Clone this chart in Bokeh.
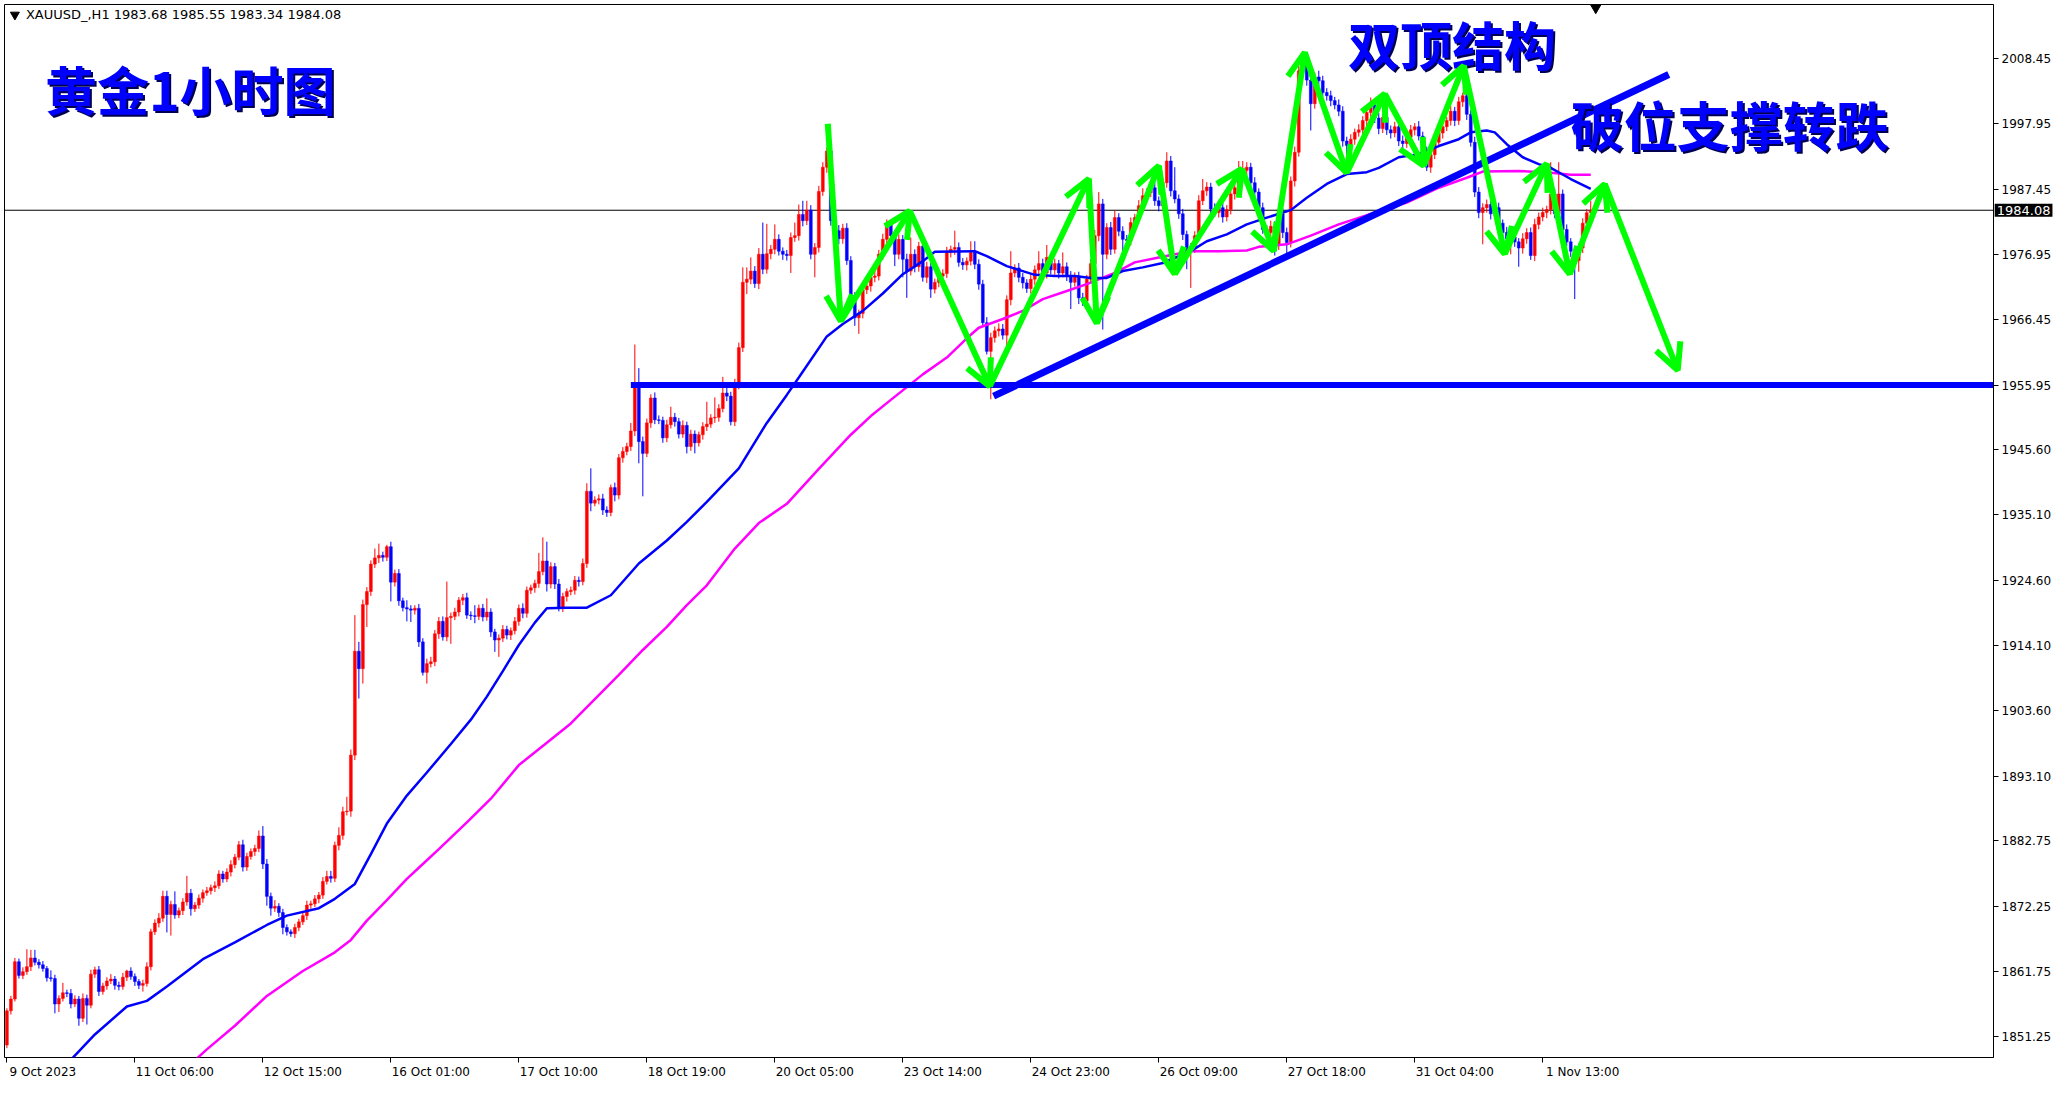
import numpy as np
from bokeh.plotting import figure
from bokeh.models import (Range1d, FixedTicker, Span, Label, Arrow,
                          OpenHead, ColumnDataSource, NumeralTickFormatter)
from bokeh.core.properties import value
from bokeh.embed import file_html
from bokeh.resources import INLINE

# XAUUSD H1, one value per bar (open of each bar = previous close)
first_open = 1849.9
closes = [
    1855.4, 1857.3, 1863.3, 1861.1, 1861.7, 1862.5, 1863.9, 1863.2, 1862.8, 1862.2,
    1860.7, 1860.6, 1856.5, 1857.4, 1858.3, 1858.2, 1856.5, 1857.3, 1854.2, 1857.4,
    1856.3, 1861.3, 1862.0, 1858.5, 1859.4, 1860.2, 1860.5, 1859.5, 1859.3, 1860.8,
    1861.8, 1860.9, 1860.1, 1859.5, 1859.8, 1862.5, 1868.1, 1869.5, 1870.3, 1873.8,
    1870.9, 1872.5, 1870.8, 1871.5, 1872.9, 1874.3, 1871.8, 1872.4, 1873.5, 1874.4,
    1874.7, 1875.2, 1875.5, 1877.4, 1876.6, 1877.7, 1878.9, 1880.1, 1882.1, 1878.5,
    1880.2, 1881.0, 1881.5, 1883.5, 1879.0, 1873.8, 1871.9, 1872.2, 1871.2, 1868.8,
    1868.1, 1867.8, 1868.8, 1869.7, 1870.7, 1872.4, 1872.6, 1873.4, 1874.0, 1876.2,
    1877.0, 1876.7, 1882.0, 1883.6, 1887.4, 1887.5, 1896.5, 1913.2, 1910.4, 1920.7,
    1922.8, 1927.2, 1928.2, 1928.6, 1928.3, 1930.0, 1924.3, 1925.7, 1921.3, 1920.2,
    1920.0, 1919.8, 1920.1, 1914.7, 1909.8, 1911.2, 1911.5, 1916.0, 1918.0, 1915.5,
    1918.6, 1918.8, 1919.5, 1921.4, 1921.8, 1919.0, 1918.9, 1918.8, 1920.1, 1918.7,
    1919.5, 1916.3, 1915.0, 1915.3, 1916.7, 1915.8, 1916.5, 1918.0, 1920.1, 1919.3,
    1923.0, 1923.4, 1924.1, 1926.0, 1927.7, 1924.0, 1926.8, 1924.0, 1920.2, 1922.0,
    1922.8, 1923.0, 1924.6, 1924.4, 1927.3, 1938.9, 1937.0, 1937.5, 1937.7, 1935.9,
    1935.5, 1939.5, 1938.3, 1944.3, 1945.3, 1946.1, 1948.6, 1956.3, 1946.9, 1945.0,
    1949.9, 1953.9, 1950.4, 1950.3, 1947.5, 1949.6, 1950.8, 1950.1, 1948.1, 1949.5,
    1946.1, 1948.1, 1946.7, 1948.0, 1949.3, 1949.7, 1950.7, 1950.8, 1952.2, 1954.7,
    1954.2, 1950.1, 1956.1, 1962.0, 1972.5, 1973.0, 1974.3, 1972.3, 1977.0, 1974.6,
    1977.1, 1977.8, 1979.4, 1977.5, 1977.0, 1976.8, 1979.7, 1980.0, 1983.4, 1982.4,
    1984.1, 1977.0, 1978.1, 1987.1, 1991.0, 1993.6, 1982.4, 1980.8, 1979.5, 1981.2,
    1976.0, 1970.0, 1966.8, 1967.5, 1971.3, 1971.9, 1973.3, 1973.5, 1977.0, 1979.4,
    1981.8, 1980.0, 1977.0, 1979.4, 1976.2, 1974.3, 1977.0, 1975.0, 1978.3, 1973.3,
    1975.0, 1971.4, 1972.5, 1973.5, 1973.9, 1977.3, 1977.8, 1978.1, 1975.7, 1975.3,
    1975.9, 1977.3, 1975.4, 1972.2, 1966.0, 1961.4, 1963.6, 1964.7, 1965.0, 1964.0,
    1969.7, 1974.0, 1974.8, 1973.3, 1972.4, 1971.5, 1973.0, 1974.5, 1975.5, 1974.0,
    1976.5, 1974.5, 1975.5, 1974.0, 1975.0, 1973.5, 1972.5, 1973.5, 1970.0, 1969.5,
    1973.0, 1975.5, 1980.0, 1985.1, 1977.0, 1981.3, 1977.8, 1982.9, 1980.7, 1979.4,
    1979.2, 1982.1, 1982.9, 1984.8, 1986.4, 1986.9, 1987.7, 1985.6, 1984.8, 1988.5,
    1992.0, 1987.2, 1985.9, 1983.5, 1980.2, 1977.5, 1978.0, 1980.0, 1985.6, 1987.2,
    1987.8, 1984.3, 1983.7, 1984.5, 1983.0, 1984.2, 1986.7, 1987.7, 1989.1, 1990.5,
    1991.0, 1988.5, 1987.0, 1984.5, 1981.0, 1980.5, 1981.5, 1978.5, 1983.5, 1980.5,
    1978.9, 1988.8, 1993.4, 2006.5, 2008.0, 2005.0, 2001.2, 2005.5, 2004.9, 2003.0,
    2002.5, 2001.7, 2001.0, 2000.0, 1995.2, 1994.5, 1995.5, 1996.6, 1997.0, 1998.5,
    1999.8, 2001.0, 1998.9, 1997.2, 1999.0, 1997.0, 1996.5, 1997.5, 1995.2, 1994.8,
    1995.8, 1997.0, 1997.5, 1996.0, 1993.5, 1991.0, 1993.0, 1995.0, 1996.5, 1997.5,
    1998.5, 2000.0, 1998.5, 2001.5, 2002.5, 1999.5, 1995.0, 1987.0, 1983.7, 1984.5,
    1985.0, 1983.5, 1984.5, 1982.0, 1980.5, 1979.5, 1979.8, 1979.0, 1978.0, 1979.5,
    1980.5, 1976.8, 1981.8, 1983.0, 1983.7, 1984.2, 1986.7, 1983.5, 1986.7, 1981.0,
    1979.0, 1977.5, 1976.0, 1978.0, 1982.0, 1983.68, 1984.08,
]
# upper / lower shadow length of each bar
wick_up = [
    0.4, 0.5, 0.6, 0.5, 0.7, 2.8, 1.3, 1.3, 0.5, 0.6,
    0.4, 1.2, 0.6, 0.5, 1.6, 0.5, 0.7, 0.6, 0.5, 0.8,
    0.6, 0.7, 0.5, 0.6, 0.5, 0.6, 0.8, 0.5, 0.6, 0.7,
    0.2, 0.6, 0.5, 0.4, 0.6, 0.7, 0.5, 0.6, 0.8, 0.9,
    0.9, 0.6, 2.1, 0.5, 0.6, 2.8, 0.7, 0.5, 0.6, 0.5,
    0.6, 0.5, 0.7, 0.6, 0.5, 0.6, 0.7, 0.5, 0.6, 0.8,
    0.6, 0.5, 0.6, 0.9, 1.6, 0.8, 0.6, 1.0, 0.5, 0.6,
    0.5, 0.4, 0.6, 0.5, 0.6, 0.7, 0.5, 0.6, 0.5, 0.7,
    0.9, 0.9, 0.6, 1.3, 0.8, 2.3, 0.9, 5.8, 1.5, 0.8,
    0.7, 0.6, 1.5, 1.9, 0.6, 0.3, 0.8, 0.6, 0.7, 0.5,
    1.2, 0.6, 0.5, 0.7, 0.6, 0.8, 0.8, 0.6, 0.7, 0.8,
    5.8, 0.6, 0.7, 0.5, 0.6, 0.8, 0.6, 1.7, 0.6, 0.7,
    2.2, 0.6, 0.5, 0.6, 0.7, 0.6, 0.5, 0.7, 0.6, 0.8,
    0.6, 0.5, 0.6, 3.0, 3.8, 3.1, 0.7, 0.6, 0.8, 0.6,
    0.5, 0.6, 0.7, 0.6, 0.8, 1.3, 3.7, 0.6, 0.7, 0.8,
    0.6, 0.5, 0.8, 0.6, 0.7, 0.6, 1.3, 6.2, 2.4, 0.8,
    0.7, 0.6, 0.9, 0.7, 0.6, 0.8, 1.7, 0.7, 0.6, 0.8,
    0.6, 0.7, 0.6, 0.5, 0.7, 3.6, 0.6, 3.2, 0.7, 2.6,
    1.3, 0.7, 0.9, 0.8, 2.4, 1.9, 2.2, 0.8, 1.0, 5.1,
    4.8, 0.7, 2.4, 0.8, 0.6, 0.7, 0.8, 2.1, 1.6, 2.2,
    1.5, 0.8, 0.7, 0.9, 0.8, 0.6, 1.0, 0.8, 0.9, 0.7,
    0.8, 0.7, 0.9, 0.6, 0.8, 0.7, 0.6, 0.8, 0.7, 0.9,
    0.8, 0.7, 0.9, 0.8, 0.7, 0.9, 2.7, 0.8, 0.7, 0.9,
    0.8, 0.7, 0.6, 0.8, 0.7, 0.9, 0.6, 2.7, 0.8, 0.7,
    0.6, 1.8, 1.8, 0.8, 0.7, 0.9, 0.8, 0.7, 0.9, 0.8,
    0.7, 3.5, 0.6, 0.8, 0.7, 0.6, 0.8, 0.7, 2.0, 0.8,
    2.0, 0.7, 0.8, 0.6, 2.3, 0.7, 0.8, 0.6, 0.7, 0.8,
    0.7, 0.8, 0.9, 1.9, 0.8, 0.7, 0.9, 1.1, 0.7, 0.8,
    0.7, 0.8, 0.6, 0.9, 1.2, 0.7, 0.8, 0.9, 0.7, 0.8,
    1.4, 0.8, 3.8, 0.7, 0.8, 0.6, 0.8, 0.7, 0.9, 1.9,
    0.8, 0.7, 0.9, 0.6, 0.8, 0.7, 0.9, 0.8, 2.9, 1.5,
    0.8, 0.7, 0.9, 0.6, 0.8, 0.7, 0.9, 0.8, 0.7, 0.9,
    0.8, 0.7, 0.9, 0.8, 1.5, 0.8, 0.9, 0.7, 1.0, 0.8,
    0.7, 0.8, 0.6, 0.9, 0.8, 0.7, 0.8, 0.6, 0.9, 0.7,
    0.8, 1.2, 0.7, 0.8, 0.6, 0.9, 0.7, 0.8, 0.6, 0.9,
    0.7, 0.8, 0.6, 0.9, 0.7, 0.8, 0.6, 0.9, 0.7, 0.8,
    0.6, 0.9, 0.7, 0.8, 0.5, 0.5, 0.7, 0.9, 0.8, 0.7,
    0.8, 0.9, 0.7, 0.8, 0.6, 0.9, 0.7, 0.8, 0.6, 0.9,
    0.7, 0.8, 0.9, 0.7, 0.8, 0.6, 5.1, 0.8, 5.1, 0.7,
    0.8, 0.6, 0.9, 0.7, 0.8, 0.6, 1.47,
]
wick_dn = [
    0.5, 0.6, 0.4, 0.5, 0.6, 0.5, 0.7, 0.5, 0.6, 0.5,
    0.6, 0.5, 1.5, 1.3, 0.5, 0.6, 0.7, 0.5, 1.2, 0.6,
    3.1, 0.5, 0.6, 0.7, 0.5, 0.6, 0.5, 0.7, 0.6, 0.5,
    0.6, 0.5, 0.7, 0.6, 1.0, 0.5, 0.6, 0.5, 0.7, 0.6,
    2.9, 3.4, 0.6, 0.5, 0.7, 0.6, 1.1, 0.5, 0.6, 0.7,
    0.5, 0.6, 0.7, 0.5, 0.6, 0.5, 0.7, 0.6, 0.5, 0.7,
    0.6, 0.5, 0.7, 0.6, 0.8, 1.5, 1.2, 0.6, 0.7, 1.1,
    0.6, 0.5, 0.7, 0.6, 0.5, 0.7, 0.6, 0.5, 0.7, 0.6,
    0.5, 0.7, 0.6, 0.8, 0.7, 0.6, 0.9, 0.8, 4.8, 2.4,
    3.6, 0.7, 0.6, 0.8, 0.7, 0.6, 3.1, 0.7, 0.8, 0.6,
    2.0, 1.9, 0.7, 0.8, 0.5, 1.8, 0.6, 0.7, 0.8, 0.6,
    0.7, 4.2, 0.6, 0.7, 0.8, 0.6, 0.7, 1.1, 0.6, 0.7,
    0.6, 0.8, 1.9, 2.7, 0.6, 0.7, 0.8, 0.6, 0.7, 0.8,
    0.7, 0.6, 0.8, 0.7, 0.6, 1.2, 0.7, 0.8, 0.6, 0.7,
    0.8, 0.6, 0.7, 0.8, 0.6, 0.7, 1.3, 0.5, 0.7, 0.8,
    0.7, 0.6, 1.0, 0.7, 0.8, 0.6, 0.7, 0.8, 3.5, 6.9,
    0.6, 0.8, 0.7, 0.6, 0.8, 0.7, 0.6, 0.8, 0.7, 0.6,
    1.1, 0.7, 1.7, 0.6, 0.8, 0.7, 0.6, 0.8, 0.7, 0.6,
    0.8, 0.6, 0.7, 0.8, 0.7, 1.9, 0.8, 0.7, 0.9, 0.8,
    0.7, 0.9, 0.8, 0.7, 0.9, 0.8, 2.8, 0.7, 0.8, 0.9,
    0.7, 0.8, 3.7, 0.8, 0.7, 0.9, 0.8, 0.7, 0.9, 0.8,
    0.7, 0.9, 1.3, 2.6, 0.8, 0.7, 0.9, 0.8, 0.7, 0.9,
    0.8, 0.7, 1.9, 0.8, 2.9, 4.3, 0.7, 0.9, 0.8, 0.7,
    0.9, 1.4, 0.7, 0.8, 0.9, 0.7, 0.8, 0.9, 0.7, 0.8,
    0.9, 0.7, 0.8, 0.9, 0.7, 0.5, 7.7, 0.8, 0.9, 0.7,
    2.8, 0.9, 0.7, 0.8, 0.9, 0.7, 0.8, 0.9, 0.7, 0.8,
    0.9, 0.7, 0.8, 0.9, 0.7, 0.8, 4.3, 0.7, 1.0, 0.8,
    0.9, 0.7, 0.8, 0.9, 12.1, 0.8, 0.9, 0.7, 0.8, 2.4,
    1.4, 0.8, 0.9, 0.7, 0.8, 0.9, 0.7, 0.8, 0.9, 0.7,
    0.8, 0.9, 0.7, 0.8, 0.9, 2.9, 5.9, 0.8, 0.9, 0.7,
    0.8, 0.9, 0.7, 0.8, 0.9, 0.7, 0.8, 0.9, 0.7, 0.8,
    0.9, 0.7, 0.8, 0.9, 0.7, 0.8, 0.9, 1.7, 0.8, 0.9,
    2.4, 0.8, 0.9, 0.7, 0.8, 0.9, 4.3, 0.8, 0.9, 0.7,
    0.8, 0.9, 0.7, 0.8, 0.9, 1.5, 0.8, 0.9, 0.7, 0.8,
    0.9, 0.7, 0.8, 0.9, 0.7, 0.8, 0.9, 0.7, 0.8, 0.9,
    0.7, 0.8, 0.9, 0.7, 0.8, 0.6, 0.9, 0.7, 0.8, 0.9,
    0.7, 0.8, 0.9, 0.7, 0.8, 0.9, 0.7, 0.8, 0.9, 5.1,
    0.8, 0.9, 0.7, 0.8, 0.9, 0.7, 2.5, 0.8, 3.0, 0.9,
    0.8, 0.7, 0.9, 0.8, 0.7, 0.9, 0.8, 0.7, 0.9, 0.8,
    0.7, 0.9, 6.2, 1.8, 0.8, 0.9, 0.34,
]

# moving averages (bar index, price)
ma_fast_bar = [13, 22, 30, 35, 40, 49, 57, 65, 70, 78, 82, 87, 91, 95, 100, 105, 111, 116,
               120, 124, 128, 132, 135, 140, 145, 151, 158, 165, 170, 175, 183, 190, 195,
               198, 205, 209, 214, 219, 224, 229, 232, 242, 245, 250, 257, 262, 267, 271,
               275, 279, 284, 289, 296, 300, 305, 310, 315, 321, 325, 330, 335, 340, 343,
               348, 353, 358, 363, 366, 370, 372, 375, 379, 383, 386, 391, 396]
ma_fast = [1845.5, 1851.6, 1856.1, 1857.0, 1859.3, 1863.7, 1866.4, 1869.2, 1870.7, 1871.9,
           1873.4, 1875.8, 1880.6, 1885.5, 1890.0, 1893.7, 1898.3, 1902.2, 1905.9, 1910.0,
           1914.2, 1917.8, 1920.1, 1920.2, 1920.2, 1922.2, 1927.3, 1931.0, 1934.0, 1937.2,
           1942.6, 1949.9, 1954.4, 1957.2, 1963.8, 1965.8, 1967.9, 1970.7, 1973.8, 1975.9,
           1977.4, 1977.5, 1976.7, 1975.1, 1973.7, 1973.5, 1973.5, 1973.2, 1973.2, 1974.3,
           1974.9, 1975.6, 1977.5, 1979.1, 1980.2, 1981.8, 1982.9, 1984.1, 1986.1, 1988.3,
           1989.9, 1990.2, 1990.9, 1992.6, 1993.1, 1994.4, 1995.5, 1996.6, 1996.9, 1996.6,
           1994.7, 1992.6, 1991.5, 1990.9, 1989.1, 1987.5]
ma_slow_bar = [44, 50, 57, 65, 74, 82, 86, 90, 95, 100, 104, 108, 115, 121, 128, 135, 141,
               147, 153, 159, 165, 170, 175, 182, 188, 195, 203, 211, 216, 221, 229, 235,
               240, 243, 249, 254, 259, 265, 270, 277, 282, 288, 296, 303, 310, 313, 320,
               326, 333, 341, 350, 358, 365, 369, 378, 386, 391, 396]
ma_slow = [1845.7, 1849.2, 1853.0, 1857.8, 1861.8, 1864.8, 1866.8, 1869.9, 1873.2, 1876.6,
           1879.0, 1881.4, 1885.7, 1889.5, 1894.9, 1898.5, 1901.6, 1905.5, 1909.4, 1913.4,
           1917.1, 1920.6, 1923.8, 1929.7, 1933.8, 1936.9, 1942.5, 1948.0, 1951.0, 1953.6,
           1957.7, 1960.4, 1963.5, 1965.2, 1966.6, 1967.9, 1969.8, 1971.1, 1972.2, 1974.0,
           1975.7, 1976.5, 1977.5, 1977.5, 1977.6, 1978.2, 1978.6, 1980.0, 1981.8, 1983.5,
           1985.3, 1987.7, 1989.3, 1990.3, 1990.4, 1990.1, 1989.8, 1989.8]

# drawn objects
support_level = 1956.0
support_from_bar = 156
trend_bar = [246.7, 415.5]
trend_price = [1954.2, 2005.9]
zigzag_bar = [205.25, 208.5, 225.75, 245.75, 270.5, 272.5, 288.0, 292.0, 308.75, 316.75,
              324.5, 335.0, 344.5, 354.25, 364.25, 374.5, 385.0, 390.75, 399.5, 417.75]
zigzag_price = [1997.98, 1966.25, 1983.97, 1955.78, 1989.12, 1965.93, 1991.22, 1973.82,
                1990.73, 1977.53, 2009.42, 1990.09, 2002.81, 1991.22, 2007.32, 1977.04,
                1991.54, 1973.82, 1988.32, 1958.36]
last_price = 1984.08
header = "XAUUSD_,H1  1983.68 1985.55 1983.34 1984.08"
title = "黄金1小时图"
note_top = "双顶结构"
note_break = "破位支撑转跌"

price_ticks = [2008.45, 1997.95, 1987.45, 1976.95, 1966.45, 1955.95, 1945.60, 1935.10,
               1924.60, 1914.10, 1903.60, 1893.10, 1882.75, 1872.25, 1861.75, 1851.25]
time_tick_bars = [0, 32, 64, 96, 128, 160, 192, 224, 256, 288, 320, 352, 384]
time_labels = ["9 Oct 2023", "11 Oct 06:00", "12 Oct 15:00", "16 Oct 01:00",
               "17 Oct 10:00", "18 Oct 19:00", "20 Oct 05:00", "23 Oct 14:00",
               "24 Oct 23:00", "26 Oct 09:00", "27 Oct 18:00", "31 Oct 04:00",
               "1 Nov 13:00"]

UP, DOWN = "#FF0000", "#0000FF"
AXIS_FONT = "DejaVu Sans"
CJK = "Noto Sans CJK SC"
X_END = 496.7

c = np.array(closes)
o = np.array([first_open] + closes[:-1])
hi = np.maximum(o, c) + np.array(wick_up)
lo = np.minimum(o, c) - np.array(wick_dn)
bars = np.arange(len(c))
src = ColumnDataSource(dict(x=bars, top=np.maximum(o, c), bottom=np.minimum(o, c),
                            hi=hi, lo=lo, color=np.where(c >= o, UP, DOWN)))

p = figure(width=2064, height=1094, x_range=Range1d(-0.6, X_END),
           y_range=Range1d(1847.9, 2017.15), y_axis_location="right",
           toolbar_location=None, output_backend="svg",
           min_border_left=4, min_border_top=4, min_border_right=71, min_border_bottom=26)
p.grid.visible = False
p.outline_line_color = "black"
p.outline_line_width = 1

# right price axis
p.yaxis.ticker = FixedTicker(ticks=price_ticks)
p.yaxis.formatter = NumeralTickFormatter(format="0.00")
p.yaxis.major_tick_out = 5
p.yaxis.major_tick_in = 0
p.yaxis.minor_tick_line_color = None
p.yaxis.major_label_standoff = 3
p.yaxis.major_label_text_font = AXIS_FONT
p.yaxis.major_label_text_font_size = "12px"
p.yaxis.major_label_text_color = "black"

# bottom time axis: marks at the bar (minor ticks), text starting at the mark like MT4
em = {" ": 0.318, ":": 0.337, "O": 0.787, "c": 0.55, "t": 0.392, "N": 0.748, "o": 0.612, "v": 0.592}
centers = [int(round(b + (sum(em.get(ch, 0.636) for ch in s) * 12 / 2 + 2) / 4))
           for b, s in zip(time_tick_bars, time_labels)]
xa = p.xaxis[0]
xa.ticker = FixedTicker(ticks=centers, minor_ticks=time_tick_bars)
xa.major_label_overrides = {k: s for k, s in zip(centers, time_labels)}
xa.major_tick_line_color = None
xa.major_tick_out = 5
xa.major_tick_in = 0
xa.minor_tick_line_color = "black"
xa.minor_tick_out = 5
xa.minor_tick_in = 0
xa.axis_line_color = None
xa.major_label_standoff = 2
xa.major_label_text_font = AXIS_FONT
xa.major_label_text_font_size = "12px"
xa.major_label_text_color = "black"

p.add_layout(Span(location=last_price, dimension="width", line_color="black",
                  line_width=1, level="underlay"))

# candles
p.segment(x0="x", y0="lo", x1="x", y1="hi", line_color="color", line_width=1, source=src)
p.vbar(x="x", width=0.72, top="top", bottom="bottom", fill_color="color",
       line_color="color", line_width=0.5, source=src)

# moving averages
p.line(ma_slow_bar, ma_slow, line_color="#FF00FF", line_width=2.5)
p.line(ma_fast_bar, ma_fast, line_color="#0000FF", line_width=2.5)

# support and rising trend line
p.line([support_from_bar, X_END + 5], [support_level, support_level], line_color="#0000FF", line_width=6)
p.line(trend_bar, trend_price, line_color="#0000FF", line_width=7)

# green zigzag arrows
zz = ColumnDataSource(dict(x0=zigzag_bar[:-1], y0=zigzag_price[:-1],
                           x1=zigzag_bar[1:], y1=zigzag_price[1:]))
p.add_layout(Arrow(x_start="x0", y_start="y0", x_end="x1", y_end="y1", source=zz,
                   line_color="#00FF00", line_width=6,
                   end=OpenHead(line_color="#00FF00", line_width=6, size=26)))

# header line
p.scatter([2.0], [2015.5], marker="inverted_triangle", size=9, color="black")
p.text([4.75], [2015.5], text=[header], text_font=value(AXIS_FONT), text_font_size="13px",
       text_baseline="middle", text_align="left", text_color="black")
p.scatter([397.25], [2016.6], marker="inverted_triangle", size=10, color="black")

# chart notes with a dark drop shadow
for txt, bx, py, fs in [(title, 9.5, 2003.6, "52px"), (note_top, 335.3, 2010.9, "52px"),
                        (note_break, 391.0, 1997.9, "53px")]:
    for dx, col in [(2, "#000050"), (0, "#0000FF")]:
        p.text([bx], [py], text=[txt], text_font=value(CJK), text_font_style="bold",
               text_font_size=fs, text_baseline="middle", text_align="left",
               text_color=col, x_offset=dx, y_offset=dx)

# current price box on the price scale; a side-panel annotation is not clipped by the frame
p.add_layout(Label(x=X_END + 0.3, y=last_price, x_units="data", y_units="data",
                   text="%.2f" % last_price, text_color="white", background_fill_color="black",
                   text_font=AXIS_FONT, text_font_size="13px", text_baseline="middle",
                   text_align="left", padding=2), "below")

open("out.html", "w").write(file_html(p, INLINE))
